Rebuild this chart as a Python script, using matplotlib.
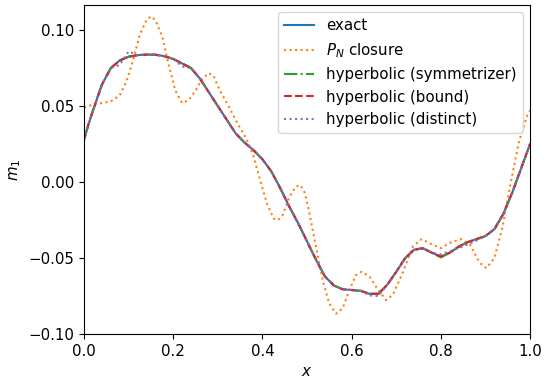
import numpy as np
import matplotlib
matplotlib.use('Agg')
import matplotlib.pyplot as plt
from matplotlib.ticker import MultipleLocator

plt.rcParams['font.size'] = 10.8

# values
x_grid = [0.00, 0.01, 0.02, 0.04, 0.06, 0.08, 0.10, 0.12, 0.14, 0.16, 0.18, 0.20,
          0.22, 0.24, 0.26, 0.28, 0.30, 0.32, 0.34, 0.36, 0.38, 0.40, 0.42, 0.44,
          0.46, 0.48, 0.50, 0.52, 0.54, 0.56, 0.58, 0.60, 0.62, 0.64, 0.66, 0.68,
          0.70, 0.72, 0.74, 0.76, 0.78, 0.80, 0.82, 0.84, 0.86, 0.88, 0.90, 0.92,
          0.94, 0.96, 0.98, 1.00]

m1_exact = [0.028, 0.038, 0.047, 0.064, 0.075, 0.080, 0.0825, 0.0835, 0.0838, 0.0838,
            0.0828, 0.081, 0.078, 0.075, 0.068, 0.059, 0.050, 0.041, 0.032, 0.026,
            0.021, 0.015, 0.007, -0.004, -0.016, -0.027, -0.039, -0.051, -0.062,
            -0.068, -0.0705, -0.071, -0.0715, -0.0735, -0.0735, -0.0675, -0.059,
            -0.050, -0.0445, -0.0435, -0.0465, -0.049, -0.0465, -0.0425, -0.0395,
            -0.0375, -0.0355, -0.031, -0.021, -0.007, 0.009, 0.025]

# symmetrizer and bound variants sit right on top of the exact curve
m1_symmetrizer = list(m1_exact)
m1_symmetrizer[41] = -0.0495
m1_bound = list(m1_exact)

m1_distinct = list(m1_exact)
m1_distinct[5] = 0.077
m1_distinct[6] = 0.086
m1_distinct[12] = 0.076
m1_distinct[33] = -0.0745
m1_distinct[34] = -0.075
m1_distinct[41] = -0.0475
m1_distinct[42] = -0.0455
m1_distinct[43] = -0.0435
m1_distinct[44] = -0.041
m1_distinct[45] = -0.0385

# P_N closure wiggles a lot, so it gets its own x points
pn_x = [0.00, 0.02, 0.04, 0.06, 0.08, 0.095, 0.11, 0.125, 0.14, 0.15, 0.16, 0.175,
        0.19, 0.205, 0.22, 0.235, 0.25, 0.265, 0.28, 0.29, 0.305, 0.325, 0.345,
        0.365, 0.38, 0.395, 0.41, 0.425, 0.435, 0.445, 0.46, 0.475, 0.485, 0.495,
        0.505, 0.52, 0.535, 0.55, 0.565, 0.58, 0.595, 0.61, 0.622, 0.64, 0.655,
        0.677, 0.692, 0.714, 0.737, 0.757, 0.78, 0.80, 0.82, 0.845, 0.865, 0.887,
        0.902, 0.92, 0.938, 0.955, 0.976, 0.994, 1.00]
pn_m1 = [0.049, 0.051, 0.052, 0.053, 0.057, 0.066, 0.080, 0.097, 0.1065, 0.109,
         0.1065, 0.096, 0.077, 0.060, 0.052, 0.054, 0.060, 0.068, 0.0717, 0.070,
         0.060, 0.0495, 0.038, 0.028, 0.017, 0.001, -0.014, -0.024, -0.025, -0.022,
         -0.010, -0.003, -0.002, -0.007, -0.020, -0.0425, -0.0645, -0.080, -0.0865,
         -0.083, -0.071, -0.061, -0.059, -0.062, -0.069, -0.0776, -0.0743, -0.060,
         -0.0425, -0.0375, -0.041, -0.0435, -0.040, -0.0375, -0.041, -0.053, -0.0566,
         -0.050, -0.030, -0.003, 0.0276, 0.044, 0.047]

fig = plt.figure(figsize=(5.47, 3.81), dpi=100)
ax = fig.add_axes([0.1536, 0.123, 0.8154, 0.864])

ax.plot(x_grid, m1_exact, '-', color='C0', label='exact')
ax.plot(pn_x, pn_m1, ':', color='C1', label='$P_N$ closure')
ax.plot(x_grid, m1_symmetrizer, '-.', color='C2', label='hyperbolic (symmetrizer)')
ax.plot(x_grid, m1_bound, '--', color='C3', label='hyperbolic (bound)')
ax.plot(x_grid, m1_distinct, ':', color='C4', label='hyperbolic (distinct)')

ax.set_xlim(0, 1)
ax.set_ylim(-0.1, 0.1165)
ax.yaxis.set_major_locator(MultipleLocator(0.05))
ax.set_xlabel('$x$')
ax.set_ylabel('$m_1$')
ax.legend(loc='upper right')

fig.savefig('out.png', dpi=100)
